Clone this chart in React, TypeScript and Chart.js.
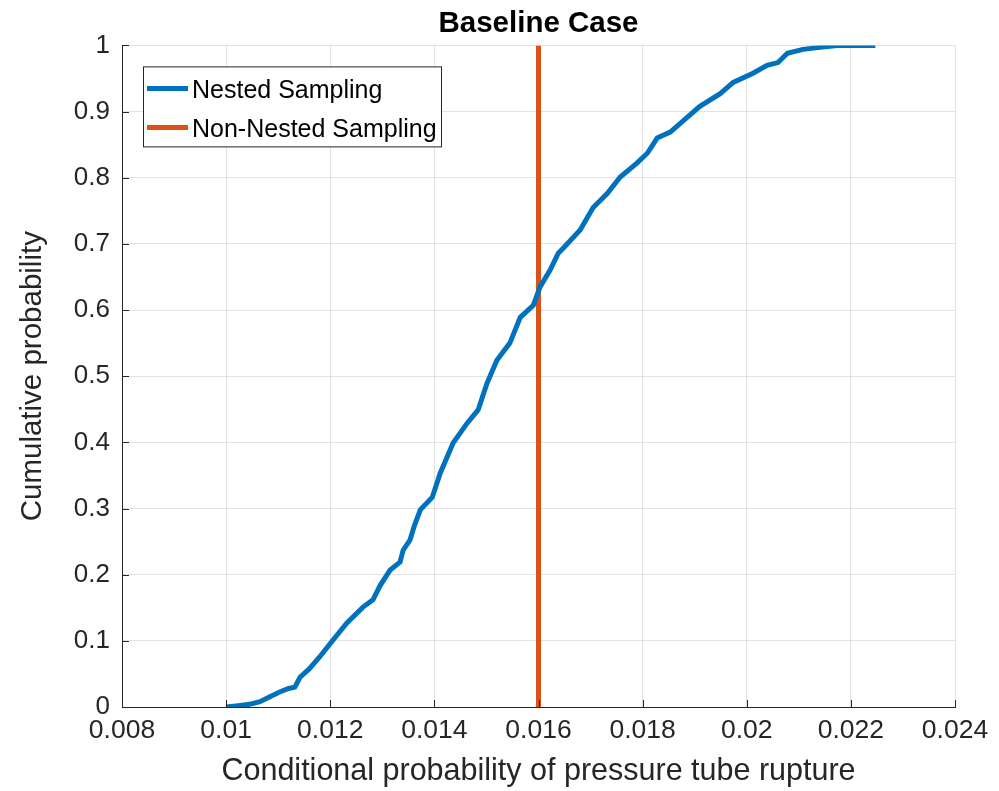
import React, { useEffect, useRef } from "react";
import { Chart, registerables } from "chart.js";

Chart.register(...registerables);

const FONT = '"Liberation Sans", Arial, Helvetica, sans-serif';

const chartTitle = "Baseline Case";
const xAxisTitle = "Conditional probability of pressure tube rupture";
const yAxisTitle = "Cumulative probability";

const nestedLabel = "Nested Sampling";
const nonNestedLabel = "Non-Nested Sampling";

const nestedX = [
  0.0100, 0.01023, 0.01045, 0.01065, 0.01085, 0.01104, 0.0112, 0.01132, 0.01142, 0.0116,
  0.0118, 0.01205, 0.01232, 0.01263, 0.01282, 0.01296, 0.01315, 0.01334, 0.0134, 0.01353,
  0.01362, 0.01373, 0.01396, 0.01411, 0.01436, 0.01463, 0.01484, 0.01501, 0.0152, 0.01545,
  0.01565, 0.0159, 0.01603, 0.01622, 0.01638, 0.01647, 0.0168, 0.01705, 0.01732, 0.01757,
  0.01789, 0.01809, 0.01828, 0.01853, 0.01885, 0.0191, 0.01949, 0.01974, 0.02012, 0.02039,
  0.0206, 0.02078, 0.02108, 0.02141, 0.02174, 0.02205, 0.02247,
];
const nestedY = [
  0.0, 0.002, 0.004, 0.008, 0.016, 0.023, 0.028, 0.03, 0.045, 0.058,
  0.076, 0.101, 0.127, 0.151, 0.162, 0.184, 0.207, 0.219, 0.237, 0.252,
  0.275, 0.298, 0.317, 0.353, 0.399, 0.429, 0.449, 0.489, 0.524, 0.55,
  0.589, 0.607, 0.635, 0.66, 0.686, 0.693, 0.721, 0.755, 0.776, 0.801,
  0.822, 0.837, 0.86, 0.869, 0.891, 0.908, 0.927, 0.944, 0.958, 0.97,
  0.974, 0.988, 0.994, 0.997, 1.0, 1.0, 1.0,
];

const nonNestedX = [0.016, 0.016];
const nonNestedY = [0, 1];

const xTicks = [0.008, 0.01, 0.012, 0.014, 0.016, 0.018, 0.02, 0.022, 0.024];
const yTicks = [0, 0.1, 0.2, 0.3, 0.4, 0.5, 0.6, 0.7, 0.8, 0.9, 1];

const BLUE = "#0072BD";
const ORANGE = "#D95319";
const AXIS = "#262626";
const GRID = "#e2e2e2";

const tickMarksPlugin = {
  id: "inwardTicks",
  afterDatasetsDraw(chart: any) {
    const { ctx, chartArea, scales } = chart;
    ctx.save();
    ctx.strokeStyle = AXIS;
    ctx.lineWidth = 1;
    ctx.beginPath();
    scales.x.ticks.forEach((t: any) => {
      const px = Math.round(scales.x.getPixelForValue(t.value)) + 0.5;
      ctx.moveTo(px, chartArea.bottom);
      ctx.lineTo(px, chartArea.bottom - 7);
    });
    scales.y.ticks.forEach((t: any) => {
      const py = Math.round(scales.y.getPixelForValue(t.value)) + 0.5;
      ctx.moveTo(chartArea.left, py);
      ctx.lineTo(chartArea.left + 7, py);
    });
    ctx.stroke();
    ctx.restore();
  },
};

const insideLegendPlugin = {
  id: "insideLegend",
  afterDraw(chart: any) {
    const { ctx, chartArea } = chart;
    const x0 = chartArea.left + 21;
    const y0 = chartArea.top + 21;
    const w = 298;
    const h = 80;
    ctx.save();
    ctx.fillStyle = "#ffffff";
    ctx.fillRect(x0, y0, w, h);
    ctx.strokeStyle = AXIS;
    ctx.lineWidth = 1;
    ctx.strokeRect(x0 + 0.5, y0 + 0.5, w, h);
    chart.data.datasets.forEach((ds: any, i: number) => {
      const cy = y0 + 22 + i * 39;
      ctx.strokeStyle = ds.borderColor;
      ctx.lineWidth = 5;
      ctx.beginPath();
      ctx.moveTo(x0 + 4, cy);
      ctx.lineTo(x0 + 45, cy);
      ctx.stroke();
      ctx.fillStyle = "#000000";
      ctx.font = `25px ${FONT}`;
      ctx.textBaseline = "alphabetic";
      ctx.textAlign = "left";
      ctx.fillText(ds.label, x0 + 49, cy + 10);
    });
    ctx.restore();
  },
};

export default function App() {
  const canvasRef = useRef<HTMLCanvasElement | null>(null);

  useEffect(() => {
    const canvas = canvasRef.current;
    if (!canvas) return;
    const chart = new Chart(canvas, {
      type: "line",
      data: {
        datasets: [
          {
            label: nestedLabel,
            data: nestedX.map((x, i) => ({ x, y: nestedY[i] })),
            borderColor: BLUE,
            backgroundColor: BLUE,
            borderWidth: 5,
            pointRadius: 0,
            tension: 0,
            fill: false,
          },
          {
            label: nonNestedLabel,
            data: nonNestedX.map((x, i) => ({ x, y: nonNestedY[i] })),
            borderColor: ORANGE,
            backgroundColor: ORANGE,
            borderWidth: 5,
            pointRadius: 0,
            tension: 0,
            fill: false,
          },
        ],
      },
      options: {
        responsive: false,
        animation: false,
        devicePixelRatio: 1,
        layout: { padding: { top: 0, right: 44, bottom: 0, left: 0 } },
        plugins: {
          legend: { display: false },
          tooltip: { enabled: false },
          title: {
            display: true,
            text: chartTitle,
            fullSize: false,
            color: "#000000",
            font: { family: FONT, size: 29.5, weight: "bold" },
            padding: { top: 6, bottom: 4 },
          },
        },
        scales: {
          x: {
            type: "linear",
            min: 0.008,
            max: 0.024,
            afterBuildTicks: (s: any) => {
              s.ticks = xTicks.map((v) => ({ value: v }));
            },
            afterFit: (s: any) => {
              s.height = 84;
            },
            ticks: {
              autoSkip: false,
              maxRotation: 0,
              padding: 8,
              color: AXIS,
              font: { family: FONT, size: 26.5 },
              callback: (v: any) => String(+Number(v).toFixed(3)),
            },
            grid: { color: GRID, lineWidth: 1, drawTicks: false },
            border: { display: true, color: AXIS, width: 1 },
            title: {
              display: true,
              text: xAxisTitle,
              color: AXIS,
              font: { family: FONT, size: 30.5 },
              padding: { top: 0, bottom: 1 },
            },
          },
          y: {
            type: "linear",
            min: 0,
            max: 1,
            afterBuildTicks: (s: any) => {
              s.ticks = yTicks.map((v) => ({ value: v }));
            },
            afterFit: (s: any) => {
              s.width = 122;
            },
            ticks: {
              autoSkip: false,
              padding: 12,
              color: AXIS,
              font: { family: FONT, size: 26 },
              callback: (v: any) => String(+Number(v).toFixed(1)),
            },
            grid: { color: GRID, lineWidth: 1, drawTicks: false },
            border: { display: true, color: AXIS, width: 1 },
            title: {
              display: true,
              text: yAxisTitle,
              color: AXIS,
              font: { family: FONT, size: 29.5 },
              padding: { top: 15, bottom: 0 },
            },
          },
        },
      } as any,
      plugins: [tickMarksPlugin, insideLegendPlugin],
    });
    return () => chart.destroy();
  }, []);

  return (
    <div style={{ position: "fixed", left: 0, top: 0, width: 999, height: 791, background: "#ffffff" }}>
      <canvas ref={canvasRef} width={999} height={791} style={{ display: "block" }} />
    </div>
  );
}
